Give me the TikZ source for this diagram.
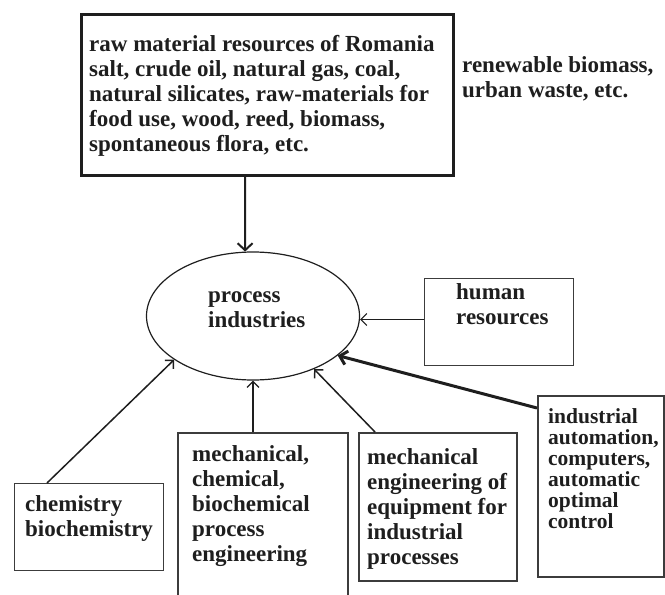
\documentclass[tikz,border=0pt]{standalone}
\usepackage{fontspec}
\setmainfont{Liberation Serif}
\usetikzlibrary{arrows.meta,calc,shapes.geometric}
\definecolor{ink}{HTML}{1E1E1E}
\definecolor{frame}{HTML}{3C3C3C}
\tikzset{
  box/.style={draw=frame, line width=1.3pt, anchor=north west, inner sep=0pt},
  txt/.style={anchor=north west, align=left, inner sep=0pt, text=ink,
    font=\bfseries\fontsize{23}{25}\selectfont, execute at begin node=\strut},
  arr/.style={draw=ink, line width=1.2pt, -{Straight Barb[length=6pt,width=12pt]}},
}
\begin{document}
\begin{tikzpicture}[x=1pt,y=-1pt]
\clip (0,0) rectangle (665,595);

% resources
\node[box, draw=ink, line width=3pt, minimum width=372pt, minimum height=161pt] (raw) at (80,13) {};
\node[txt] (rawtxt) at (89,35) {raw material resources of Romania\\salt, crude oil, natural gas, coal,\\natural silicates, raw-materials for\\food use, wood, reed, biomass,\\spontaneous flora, etc.};
\node[txt] (renew) at (462,56) {renewable biomass,\\urban waste, etc.};

% centre
\node[ellipse, draw=ink, line width=1.2pt, minimum width=213pt, minimum height=128pt, inner sep=0pt] (proc) at (253,316) {};
\node[txt] (proctxt) at (208,291) {process\\industries};

% inputs
\node[box, line width=1pt, minimum width=149pt, minimum height=87pt] (hum) at (424,278) {};
\node[txt] (humtxt) at (456,283) {human\\resources};

\node[box, minimum width=149pt, minimum height=87pt] (chem) at (14,483) {};
\node[txt] (chemtxt) at (25,495) {chemistry\\biochemistry};

\node[box, line width=1.5pt, minimum width=170pt, minimum height=200pt] (mcb) at (177,432) {};
\node[txt] (mcbtxt) at (192,445) {mechanical,\\chemical,\\biochemical\\process\\engineering};

\node[box, line width=1.5pt, minimum width=158pt, minimum height=148pt] (meq) at (358,432) {};
\node[txt] (meqtxt) at (367,448) {mechanical\\engineering of\\equipment for\\industrial\\processes};

\node[box, line width=1.5pt, minimum width=126pt, minimum height=181pt] (aut) at (537,395) {};
\node[txt, font=\bfseries\fontsize{21.5}{21}\selectfont] (auttxt) at (548,408) {industrial\\automation,\\computers,\\automatic\\optimal\\control};

% arrows
\draw[arr, line width=2pt, -{Straight Barb[length=7pt,width=15pt]}] ($(raw.south west)+(165,0)$) -- (proc.97);
\draw[arr, line width=1pt] ($(hum.west)+(0,-2.5)$) -- ($(hum.west -| proc.east)+(0,-2.5)$);
\draw[arr, line width=1.5pt] ($(chem.north west)+(33,0)$) -- (proc.209);
\draw[arr] (mcb.north -| proc.south) -- (proc.south);
\draw[arr, line width=1.5pt] ($(meq.north west)+(17,0)$) -- (proc.319);
\draw[arr, line width=3pt, -{Straight Barb[length=7pt,width=14pt]}] ($(aut.north west)+(0,13)$) -- (proc.335);
\end{tikzpicture}
\end{document}
